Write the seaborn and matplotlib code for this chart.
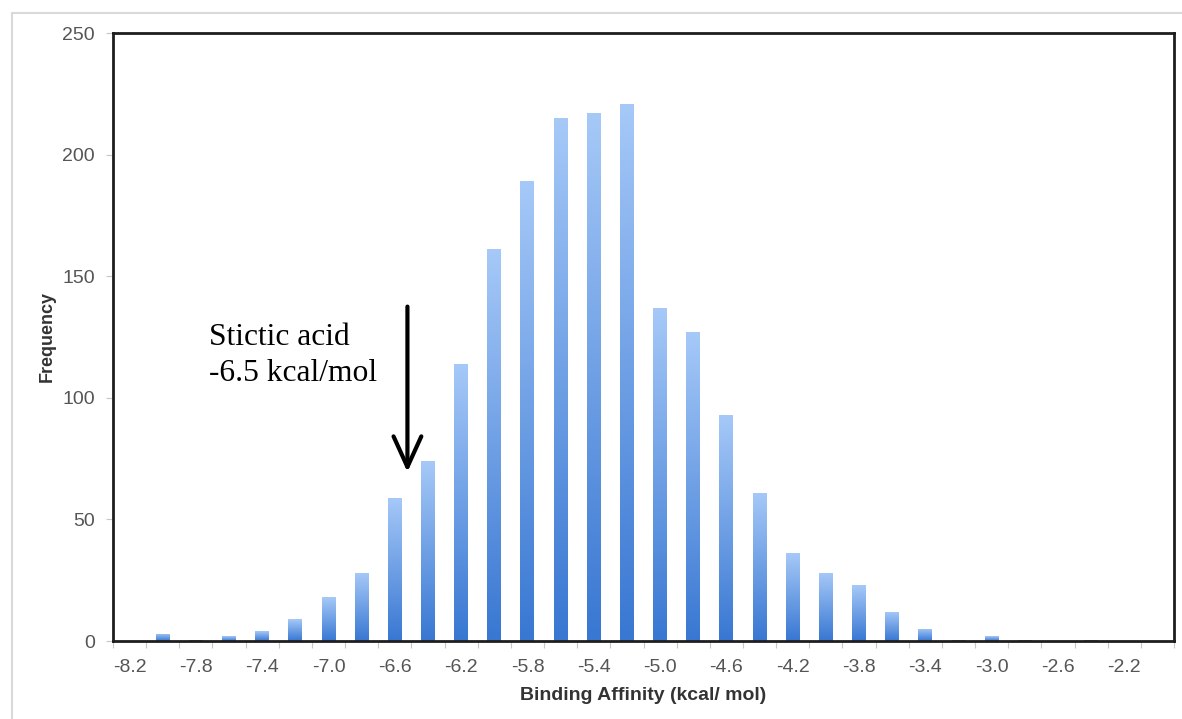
import numpy as np
import pandas as pd
import matplotlib
matplotlib.use("Agg")
import matplotlib.pyplot as plt
from matplotlib.colors import LinearSegmentedColormap
from matplotlib.lines import Line2D
import seaborn as sns

# ---- data ----
bins = ["-8.2", "-8.0", "-7.8", "-7.6", "-7.4", "-7.2", "-7.0", "-6.8", "-6.6", "-6.4",
        "-6.2", "-6.0", "-5.8", "-5.6", "-5.4", "-5.2", "-5.0", "-4.8", "-4.6", "-4.4",
        "-4.2", "-4.0", "-3.8", "-3.6", "-3.4", "-3.2", "-3.0", "-2.8", "-2.6", "-2.4",
        "-2.2", "-2.0"]
frequency = [0, 3, 0.5, 2, 4, 9, 18, 28, 59, 74,
             114, 161, 189, 215, 217, 221, 137, 127, 93, 61,
             36, 28, 23, 12, 5, 0.5, 2, 0.5, 0, 0.5,
             0, 0]
yticks = [0, 50, 100, 150, 200, 250]
annot_lines = ["Stictic acid", "-6.5 kcal/mol"]
ligand_bin = "-6.4"

df = pd.DataFrame({"bin": bins, "freq": frequency})

sns.set_theme(style="white")
plt.rcParams["font.family"] = ["Liberation Sans", "DejaVu Sans"]

fig = plt.figure(figsize=(11.82, 7.19), dpi=100)
ax = fig.add_axes([113 / 1182, 1 - 641 / 719, (1174 - 113) / 1182, (641 - 33) / 719])

sns.barplot(data=df, x="bin", y="freq", order=bins, ax=ax, width=0.42,
            color="#6fa3ea", saturation=1)

# per-bar vertical gradient
cmap = LinearSegmentedColormap.from_list("barg", ["#3877d2", "#a6c9f8"])
grad = np.linspace(0, 1, 256).reshape(-1, 1)
for p in list(ax.patches):
    x0, w, h = p.get_x(), p.get_width(), p.get_height()
    if h <= 0:
        continue
    im = ax.imshow(grad, extent=[x0, x0 + w, 0, h], origin="lower", aspect="auto",
                   cmap=cmap, zorder=2, interpolation="bilinear")
    im.set_clip_path(p)
    p.set_facecolor("none")
    p.set_edgecolor("none")

ax.set_xlim(-0.5, len(bins) - 0.5)
ax.set_ylim(0, 250)

# ticks
ax.set_xticks(range(len(bins)))
ax.set_xticklabels([b if i % 2 == 0 else "" for i, b in enumerate(bins)])
ax.set_xticks(np.arange(-0.5, len(bins), 1.0), minor=True)
ax.tick_params(axis="x", which="major", length=0, pad=13, labelsize=14, labelcolor="#555555")
ax.tick_params(axis="x", which="minor", bottom=True, length=5, width=0.8, color="#c8c8c8")
ax.set_yticks(yticks)
ax.tick_params(axis="y", left=True, length=5, width=0.8, color="#c8c8c8", pad=8,
               labelsize=14, labelcolor="#555555")

for s in ax.spines.values():
    s.set_visible(True)
    s.set_color("#1e1e1e")
    s.set_linewidth(2.0)
ax.grid(False)

ax.set_xlabel("Binding Affinity (kcal/ mol)", fontsize=14, fontweight="bold",
              color="#333333", labelpad=8)
ax.set_ylabel("Frequency", fontsize=13, fontweight="bold", color="#333333", labelpad=5)

# annotation
xi = bins.index(ligand_bin)
ax.annotate("", xy=(xi - 0.62, 69.5), xytext=(xi - 0.62, 137.5),
            arrowprops=dict(arrowstyle="->,head_length=1.1,head_width=0.5",
                            lw=3, color="black", mutation_scale=20,
                            shrinkA=0, shrinkB=0), zorder=5)
ax.text(2.4, 121.7, annot_lines[0], fontsize=22.7, family=["Liberation Serif"],
        color="black", va="baseline", ha="left")
ax.text(2.4, 106.9, annot_lines[1], fontsize=22.7, family=["Liberation Serif"],
        color="black", va="baseline", ha="left")

# outer light frame
fig.add_artist(Line2D([12 / 1182, 1.0], [1 - 13 / 719, 1 - 13 / 719],
                      transform=fig.transFigure, color="#d9d9d9", lw=1.5))
fig.add_artist(Line2D([12 / 1182, 12 / 1182], [0, 1 - 13 / 719],
                      transform=fig.transFigure, color="#d9d9d9", lw=1.5))

fig.savefig("out.png", dpi=100)
